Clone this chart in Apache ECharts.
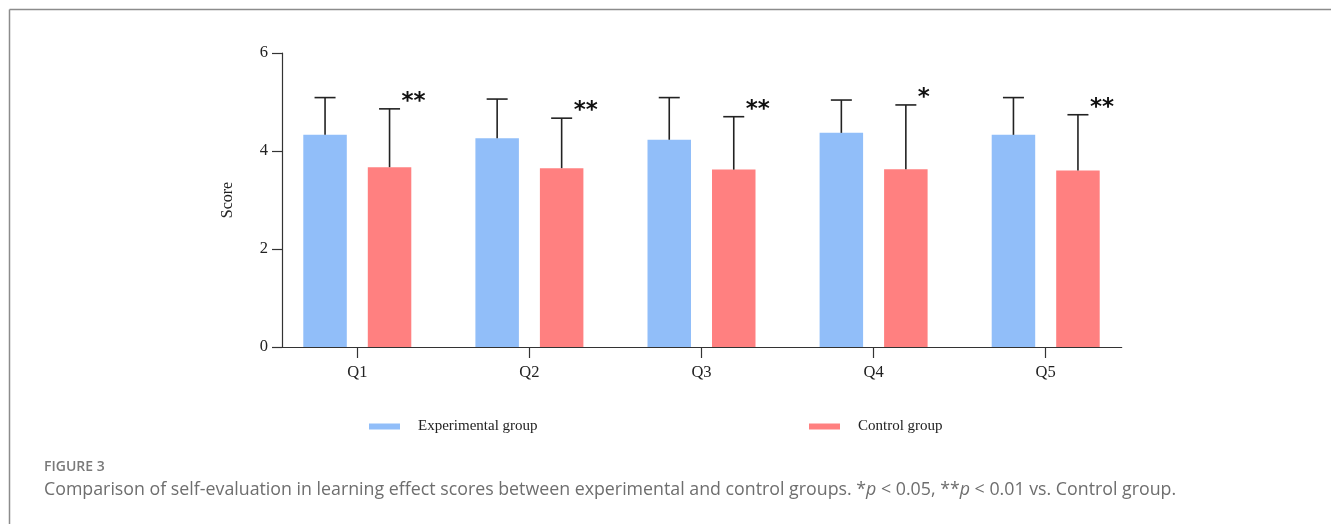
<!DOCTYPE html>
<html>
<head>
<meta charset="utf-8">
<script src="https://cdn.jsdelivr.net/npm/echarts@6/dist/echarts.min.js"></script>
<style>
html,body{margin:0;padding:0;background:#fff;}
#chart{width:1331px;height:524px;}
</style>
</head>
<body>
<div id="chart"></div>
<script>
// ---- data ----
var categories = ['Q1', 'Q2', 'Q3', 'Q4', 'Q5'];
var expMean  = [4.33, 4.26, 4.23, 4.37, 4.33];
var expSD    = [0.76, 0.80, 0.86, 0.67, 0.76];
var ctrlMean = [3.67, 3.65, 3.62, 3.63, 3.60];
var ctrlSD   = [1.19, 1.02, 1.08, 1.31, 1.14];
var sigMarks = ['**', '**', '**', '*', '**'];
var yTicks   = [0, 2, 4, 6];
var seriesNames = ['Experimental group', 'Control group'];

// ---- style constants ----
var BLUE = '#91BEF9', RED = '#FF8080', INK = '#222';
var BAR_W = 43.5, BAR_GAP = 21;
var SERIF = '"Liberation Serif", "Times New Roman", serif';

var expErr = categories.map(function (c, i) { return [i, expMean[i], expMean[i] + expSD[i], '']; });
var ctrlErr = categories.map(function (c, i) { return [i, ctrlMean[i], ctrlMean[i] + ctrlSD[i], sigMarks[i]]; });

function errRenderer(offset) {
  return function (params, api) {
    var idx = api.value(0);
    var base = api.coord([idx, api.value(1)]);
    var top = api.coord([idx, api.value(2)]);
    var x = base[0] + offset;
    var children = [
      { type: 'line', shape: { x1: x, y1: base[1], x2: x, y2: top[1] }, style: { stroke: INK, lineWidth: 1.6 } },
      { type: 'line', shape: { x1: x - 10.5, y1: top[1], x2: x + 10.5, y2: top[1] }, style: { stroke: INK, lineWidth: 1.6 } }
    ];
    var mark = api.value(3);
    if (mark) {
      children.push({
        type: 'text',
        style: {
          text: mark, x: x + 12, y: top[1] - 7,
          font: 'bold 23px "DejaVu Sans", sans-serif',
          fill: '#111', align: 'left', verticalAlign: 'middle'
        }
      });
    }
    return { type: 'group', children: children };
  };
}

var half = (BAR_W + BAR_GAP) / 2;
var chart = echarts.init(document.getElementById('chart'), null, { renderer: 'canvas' });
chart.setOption({
  animation: false,
  backgroundColor: '#fff',
  grid: [
    { left: 282, top: 53, width: 839.7, height: 294, containLabel: false },
    { left: 271.25, top: 53, width: 860.5, height: 294, containLabel: false }
  ],
  xAxis: [
    { type: 'value', gridIndex: 0, min: 0, max: 1,
      axisLine: { show: true, lineStyle: { color: '#333', width: 1.2 } },
      axisTick: { show: false }, axisLabel: { show: false }, splitLine: { show: false } },
    { type: 'category', gridIndex: 1, data: categories, boundaryGap: true,
      axisLine: { show: false },
      axisTick: { show: true, alignWithLabel: true, length: 11, lineStyle: { color: '#333', width: 1.2 } },
      axisLabel: { margin: 17, fontFamily: SERIF, fontSize: 16.5, color: INK },
      splitLine: { show: false } }
  ],
  yAxis: [
    { type: 'value', gridIndex: 0, min: 0, max: 6, interval: 2,
      name: 'Score', nameLocation: 'middle', nameGap: 46, nameRotate: 90,
      nameTextStyle: { fontFamily: SERIF, fontSize: 16, color: INK },
      axisLine: { show: true, lineStyle: { color: '#333', width: 1.2 } },
      axisTick: { show: true, length: 10, lineStyle: { color: '#333', width: 1.2 } },
      axisLabel: { margin: 14, fontFamily: SERIF, fontSize: 16.5, color: INK,
        customValues: yTicks },
      splitLine: { show: false } },
    { type: 'value', gridIndex: 1, min: 0, max: 6, interval: 2, show: false }
  ],
  legend: [
    { data: [seriesNames[0]], left: 369, top: 419, padding: 0, itemWidth: 31, itemHeight: 6,
      icon: 'rect', textStyle: { fontFamily: SERIF, fontSize: 15, color: INK, padding: [0, 0, 0, 13] } },
    { data: [seriesNames[1]], left: 809, top: 419, padding: 0, itemWidth: 31, itemHeight: 6,
      icon: 'rect', textStyle: { fontFamily: SERIF, fontSize: 15, color: INK, padding: [0, 0, 0, 13] } }
  ],
  title: [
    { text: 'FIGURE 3', left: 44, top: 460, padding: 0,
      textStyle: { fontFamily: '"Open Sans", sans-serif', fontWeight: 600, fontSize: 14, color: '#7a7a7a' } },
    { text: '{n|Comparison of self-evaluation in learning effect scores between experimental and control groups. *}{i|p}{n| < 0.05, **}{i|p}{n| < 0.01 vs. Control group.}',
      left: 44, top: 481, padding: 0,
      textStyle: { fontWeight: 'normal', rich: {
        n: { fontFamily: '"Open Sans", sans-serif', fontWeight: 'normal', fontSize: 17.8, color: '#6e6e6e' },
        i: { fontFamily: '"Open Sans", sans-serif', fontWeight: 'normal', fontSize: 17.8, fontStyle: 'italic', color: '#6e6e6e' }
      } } }
  ],
  graphic: [
    { type: 'line', shape: { x1: 9.5, y1: 9.5, x2: 1331, y2: 9.5 }, style: { stroke: '#8c8c8c', lineWidth: 1.5 } },
    { type: 'line', shape: { x1: 9.5, y1: 9.5, x2: 9.5, y2: 524 }, style: { stroke: '#8c8c8c', lineWidth: 1.5 } }
  ],
  series: [
    { name: seriesNames[0], type: 'bar', xAxisIndex: 1, yAxisIndex: 1, data: expMean,
      barWidth: BAR_W, barGap: (BAR_GAP / BAR_W * 100) + '%', itemStyle: { color: BLUE } },
    { name: seriesNames[1], type: 'bar', xAxisIndex: 1, yAxisIndex: 1, data: ctrlMean,
      barWidth: BAR_W, barGap: (BAR_GAP / BAR_W * 100) + '%', itemStyle: { color: RED } },
    { type: 'custom', xAxisIndex: 1, yAxisIndex: 1, data: expErr, renderItem: errRenderer(-half), z: 5 },
    { type: 'custom', xAxisIndex: 1, yAxisIndex: 1, data: ctrlErr, renderItem: errRenderer(half), z: 5 }
  ]
});
</script>
</body>
</html>
